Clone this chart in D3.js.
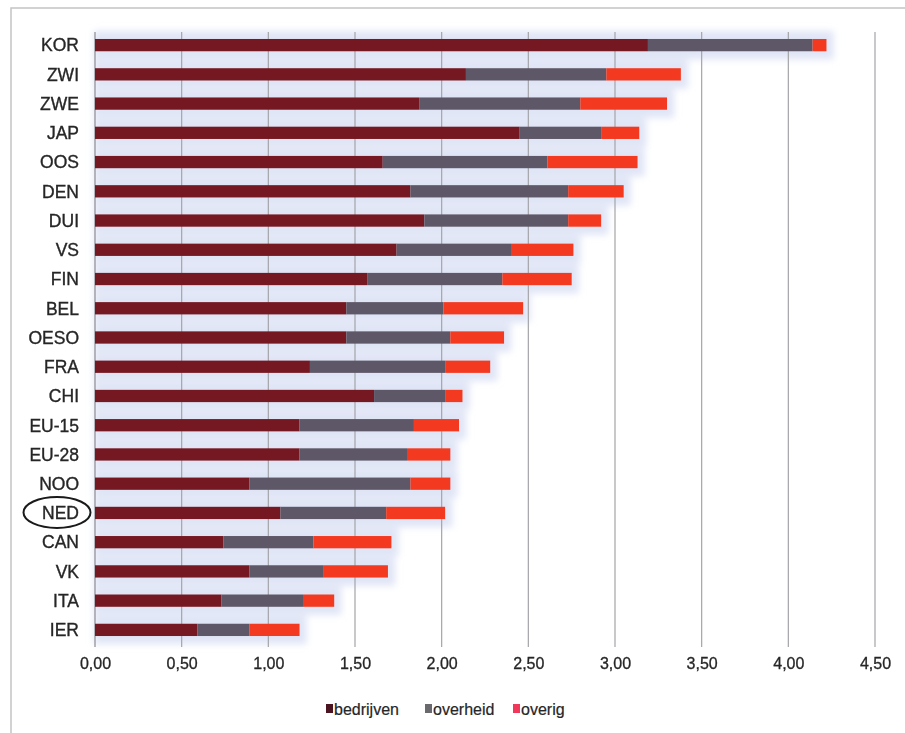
<!DOCTYPE html>
<html>
<head>
<meta charset="utf-8">
<script src="https://cdn.jsdelivr.net/npm/d3@7"></script>
<style>
  html, body { margin: 0; padding: 0; background: #ffffff; }
  svg { display: block; }
</style>
</head>
<body>
<svg id="chart" width="905" height="733"></svg>
<script>
// R&D-uitgaven als % van het bbp, naar financieringsbron
const categories = ["KOR","ZWI","ZWE","JAP","OOS","DEN","DUI","VS","FIN","BEL","OESO","FRA","CHI","EU-15","EU-28","NOO","NED","CAN","VK","ITA","IER"];
const bedrijven = [3.19,2.14,1.87,2.45,1.66,1.82,1.90,1.74,1.57,1.45,1.45,1.24,1.61,1.18,1.18,0.89,1.07,0.74,0.89,0.73,0.59];
const overheid  = [0.95,0.81,0.93,0.47,0.95,0.91,0.83,0.66,0.78,0.56,0.60,0.78,0.41,0.66,0.62,0.93,0.61,0.52,0.43,0.47,0.30];
const overig    = [0.08,0.43,0.50,0.22,0.52,0.32,0.19,0.36,0.40,0.46,0.31,0.26,0.10,0.26,0.25,0.23,0.34,0.45,0.37,0.18,0.29];
const seriesNames = ["bedrijven","overheid","overig"];
const tickValues = [0,0.5,1,1.5,2,2.5,3,3.5,4,4.5];
const highlighted = "NED";

const colors = { bedrijven: "#761822", overheid: "#5d5767", overig: "#f3391f" };
const legendColors = { bedrijven: "#4a1420", overheid: "#6a6a6e", overig: "#f2385a" };
const textColor = "#262626";
const fontFamily = "Liberation Sans, Arial, sans-serif";

const rows = categories.map((c, i) => ({
  land: c, bedrijven: bedrijven[i], overheid: overheid[i], overig: overig[i]
}));
const stacked = d3.stack().keys(seriesNames)(rows);

const svg = d3.select("#chart");
const fmt = v => d3.format(".2f")(v).replace(".", ",");

const x = d3.scaleLinear().domain([0, 4.5]).range([95, 875]);
const y = d3.scaleBand().domain(categories).range([30.5, 644.5]).paddingInner(0.58).paddingOuter(0.29);

// soft blue halo behind the bars
const defs = svg.append("defs");
defs.append("filter").attr("id", "halo").attr("x", "-10%").attr("y", "-100%").attr("width", "120%").attr("height", "300%")
  .append("feGaussianBlur").attr("stdDeviation", 3.5);

// outer frame
svg.append("path")
  .attr("d", "M11,740 L11,8 L910,8")
  .attr("fill", "none").attr("stroke", "#c4c4c4").attr("stroke-width", 1.5);

svg.append("g").attr("filter", "url(#halo)")
  .selectAll("rect").data(rows).join("rect")
  .attr("x", x(0) - 1)
  .attr("y", d => y(d.land) - 8)
  .attr("width", d => x(d.bedrijven + d.overheid + d.overig) - x(0) + 8)
  .attr("height", y.bandwidth() + 16)
  .attr("fill", "#d4dbf3").attr("opacity", 0.72);

// vertical gridlines
svg.append("g").selectAll("line").data(tickValues).join("line")
  .attr("x1", d => x(d)).attr("x2", d => x(d))
  .attr("y1", 32).attr("y2", 647)
  .attr("stroke", d => d === 0 ? "#8a8a92" : "#a4a4a8").attr("stroke-width", 1.2);

// stacked bars
svg.append("g").selectAll("g").data(stacked).join("g")
  .attr("fill", s => colors[s.key])
  .selectAll("rect").data(s => s).join("rect")
  .attr("x", d => x(d[0]))
  .attr("y", d => y(d.data.land))
  .attr("width", d => x(d[1]) - x(d[0]))
  .attr("height", y.bandwidth());

// category labels
svg.append("g").selectAll("text").data(categories).join("text")
  .attr("x", 79)
  .attr("y", d => y(d) + y.bandwidth() / 2)
  .attr("dy", "0.36em")
  .attr("text-anchor", "end")
  .attr("font-family", fontFamily)
  .attr("font-size", 17.5)
  .attr("fill", textColor)
  .attr("stroke", textColor).attr("stroke-width", 0.35)
  .text(d => d);

// highlight ring
svg.append("ellipse")
  .attr("cx", 57).attr("cy", y(highlighted) + y.bandwidth() / 2 - 0.5)
  .attr("rx", 33.5).attr("ry", 15.5)
  .attr("fill", "none").attr("stroke", "#1a1a1a").attr("stroke-width", 2);

// x-axis tick labels
const axis = d3.axisBottom(x).tickValues(tickValues).tickFormat(fmt).tickSize(0).tickPadding(0);
const axisG = svg.append("g").attr("transform", "translate(0,658)").call(axis);
axisG.select(".domain").remove();
axisG.selectAll("text")
  .attr("font-family", fontFamily)
  .attr("font-size", 16)
  .attr("fill", textColor)
  .attr("stroke", textColor).attr("stroke-width", 0.3);

// legend
const legendX = [326, 425, 513];
const legend = svg.append("g").selectAll("g").data(seriesNames).join("g")
  .attr("transform", (d, i) => `translate(${legendX[i]},709)`);
legend.append("rect").attr("x", 0).attr("y", -5).attr("width", 7).attr("height", 9)
  .attr("fill", d => legendColors[d]);
legend.append("text").attr("x", 8).attr("y", 0).attr("dy", "0.36em")
  .attr("font-family", fontFamily)
  .attr("font-size", 16).attr("fill", textColor)
  .attr("stroke", textColor).attr("stroke-width", 0.2)
  .text(d => d);
</script>
</body>
</html>
